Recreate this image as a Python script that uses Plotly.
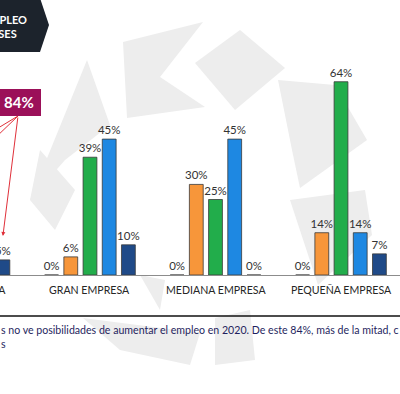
import plotly.graph_objects as go

# ---------------- data ----------------
categories = ["TOTAL EMPRESA", "GRAN EMPRESA", "MEDIANA EMPRESA", "PEQUEÑA EMPRESA"]
series_names = ["Aumentará mucho", "Aumentará", "Se mantendrá", "Disminuirá", "Disminuirá mucho"]
s_aum_mucho = [None, 0, 0, 0]
s_aumentara = [None, 6, 30, 14]
s_mantendra = [None, 39, 25, 64]
s_disminuira = [None, 45, 45, 14]
s_dism_mucho = [5, 10, 0, 7]
highlight_value = "84%"
title_lines = ["MPLEO", "ESES"]
footnote_lines = ["s no ve posibilidades de aumentar el empleo en 2020. De este 84%, más de la mitad, c", "s"]

series_values = [s_aum_mucho, s_aumentara, s_mantendra, s_disminuira, s_dism_mucho]
colors = ["#A6A6A6", "#F7963A", "#22AD4B", "#1E88E2", "#1F4A88"]

W, H = 400, 394
ML, MR, MT, MB = 0, 0, 60, 119
X_RANGE = [0.283, 3.47]
Y_RANGE = [0, 71.2]
FONT = "Lato"

def pxx(x):
    return (x - ML) / (W - ML - MR)

def pxy(y):
    return (H - MB - y) / (H - MT - MB)

def path(points):
    return "M " + " L ".join(f"{pxx(x):.4f},{pxy(y):.4f}" for x, y in points) + " Z"

def data_to_paper_x(v):
    return (v - X_RANGE[0]) / (X_RANGE[1] - X_RANGE[0])

xs = list(range(len(categories)))

fig = go.Figure()
for name, vals, col in zip(series_names, series_values, colors):
    fig.add_trace(go.Bar(
        x=xs, y=vals, name=name,
        marker=dict(color=col, line=dict(color="#3a3a3a", width=0.8)),
        text=[None if v is None else f"{v}%" for v in vals],
        textposition="outside",
        constraintext="none",
        textfont=dict(family=FONT, size=11.5, color="#333333"),
        cliponaxis=True,
        hoverinfo="skip",
    ))

shapes = []
# background watermark polygons (decorative)
watermark = [
    [(123, 42), (203, 22), (160, 77), (205, 107), (127, 118)],
    [(195, 63), (240, 30), (285, 68), (235, 110)],
    [(278, 80), (335, 85), (367, 140), (300, 188), (292, 150)],
    [(290, 200), (365, 190), (372, 235), (318, 285)],
    [(30, 200), (87, 60), (110, 125), (65, 160)],
    [(40, 150), (75, 190), (55, 230), (30, 200)],
    [(83, 318), (200, 333), (190, 365), (120, 350)],
    [(215, 318), (250, 310), (255, 360), (215, 365)],
    [(140, 275), (165, 280), (160, 310)],
]
for poly in watermark:
    shapes.append(dict(type="path", xref="paper", yref="paper", path=path(poly),
                       fillcolor="#EDEDED", line=dict(width=0), layer="below"))

# title hexagon
shapes.append(dict(type="path", xref="paper", yref="paper",
                   path=path([(-10, -2), (40, -2), (49, 25), (40, 52), (-10, 52)]),
                   fillcolor="#1C232C", line=dict(width=0), layer="above"))
# 84% box
shapes.append(dict(type="path", xref="paper", yref="paper",
                   path=path([(-10, 89), (41, 89), (41, 116), (-10, 116)]),
                   fillcolor="#9B1059", line=dict(width=0), layer="above"))
# red leader lines going off to the left
for end in [(-30, 145), (-30, 162)]:
    shapes.append(dict(type="line", xref="paper", yref="paper",
                       x0=pxx(18), y0=pxy(116), x1=pxx(end[0]), y1=pxy(end[1]),
                       line=dict(color="#E0303A", width=1), layer="above"))
# bottom separator
shapes.append(dict(type="line", xref="paper", yref="paper",
                   x0=0, x1=1, y0=pxy(316), y1=pxy(316),
                   line=dict(color="#111111", width=1.5)))

annotations = []
for i, c in enumerate(categories):
    annotations.append(dict(xref="paper", yref="paper", x=data_to_paper_x(i), y=pxy(290),
                            text=c, showarrow=False, xanchor="center", yanchor="middle",
                            font=dict(family=FONT, size=10.6, color="#262626")))
for line, xr, yc in zip(title_lines, [29, 19], [19, 34]):
    annotations.append(dict(xref="paper", yref="paper", x=pxx(xr), y=pxy(yc),
                            text="<b>" + line + "</b>", showarrow=False,
                            xanchor="right", yanchor="middle",
                            font=dict(family=FONT, size=11, color="white")))
annotations.append(dict(xref="paper", yref="paper", x=pxx(19), y=pxy(102),
                        text="<b>" + highlight_value + "</b>", showarrow=False,
                        xanchor="center", yanchor="middle",
                        font=dict(family=FONT, size=15, color="white")))
# red arrow to first group's bar label
slot = (1 - 0.235) / 5
annotations.append(dict(xref="x", yref="paper", x=0 + 2 * slot, y=pxy(236),
                        ax=pxx(18) * (W - ML - MR) - data_to_paper_x(2 * slot) * (W - ML - MR),
                        ay=116 - 236, text="", showarrow=True, arrowhead=2, arrowsize=0.8,
                        arrowwidth=1, arrowcolor="#E0303A"))
annotations.append(dict(xref="paper", yref="paper", x=pxx(-1), y=pxy(337),
                        text="<br>".join(footnote_lines), showarrow=False,
                        xanchor="left", yanchor="middle", align="left",
                        font=dict(family=FONT, size=10.6, color="#1F1F5E")))

fig.update_layout(
    width=W, height=H,
    margin=dict(l=ML, r=MR, t=MT, b=MB),
    paper_bgcolor="white", plot_bgcolor="rgba(0,0,0,0)",
    barmode="group", bargap=0.235, bargroupgap=0.28,
    showlegend=False,
    xaxis=dict(range=X_RANGE, showticklabels=False, showgrid=False, zeroline=False,
               showline=False, ticks=""),
    yaxis=dict(range=Y_RANGE, showticklabels=False, showgrid=False, zeroline=True,
               zerolinecolor="#8C8C8C", zerolinewidth=1.2, showline=False),
    shapes=shapes, annotations=annotations,
    font=dict(family=FONT),
)

fig.write_html("out.html",
               config={"displayModeBar": False},
               post_script="document.body.style.margin='0px';document.documentElement.style.overflow='hidden';")
